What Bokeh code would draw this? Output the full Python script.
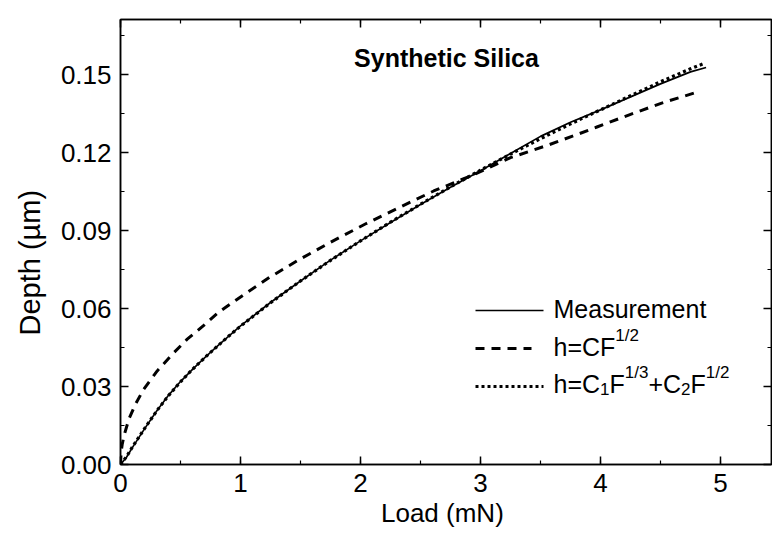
from bokeh.plotting import figure
from bokeh.models import (Range1d, LinearAxis, SingleIntervalTicker,
                          NumeralTickFormatter, Label, Title)
from bokeh.embed import file_html
from bokeh.resources import INLINE

# ---------------- data ----------------
load_meas = [0, 0.05, 0.1, 0.2, 0.3, 0.4, 0.5, 0.6, 0.7, 0.8, 0.9, 1.0, 1.25,
             1.5, 1.75, 2.0, 2.25, 2.5, 2.75, 3.0, 3.25, 3.5, 3.75, 4.0, 4.25,
             4.5, 4.75, 4.88]
depth_meas = [0, 0.0028, 0.0066, 0.0137, 0.0205, 0.0266, 0.0319, 0.0366, 0.0410,
              0.0452, 0.0493, 0.0533, 0.0623, 0.0706, 0.0786, 0.0860, 0.0931,
              0.1000, 0.1066, 0.1130, 0.1196, 0.1262, 0.1316, 0.1364, 0.1414,
              0.1464, 0.1510, 0.1527]

load_fit = [0, 0.05, 0.1, 0.2, 0.3, 0.4, 0.5, 0.6, 0.7, 0.8, 0.9, 1.0, 1.25,
            1.5, 1.75, 2.0, 2.25, 2.5, 2.75, 3.0, 3.25, 3.5, 3.75, 4.0, 4.25,
            4.5, 4.75, 4.86]
depth_fit = [0, 0.0030, 0.0068, 0.0138, 0.0205, 0.0265, 0.0318, 0.0366, 0.0410,
             0.0452, 0.0493, 0.0532, 0.0622, 0.0706, 0.0785, 0.0860, 0.0932,
             0.1001, 0.1068, 0.1132, 0.1194, 0.1253, 0.1310, 0.1364, 0.1418,
             0.1472, 0.1522, 0.1542]

load_sqrt = [0, 0.005, 0.014, 0.03, 0.07, 0.125, 0.194, 0.306, 0.444, 0.556,
             0.694, 0.819, 0.958, 1.056, 1.236, 1.5, 1.78, 2.04, 2.33, 2.61,
             2.95, 3.25, 3.56, 3.81, 3.97, 4.24, 4.51, 4.79]
depth_sqrt = [0, 0.0046, 0.0077, 0.0112, 0.0175, 0.0232, 0.0290, 0.0360, 0.0430,
              0.0482, 0.0535, 0.0586, 0.0631, 0.0662, 0.0718, 0.0791, 0.0862,
              0.0925, 0.0990, 0.1052, 0.1116, 0.1180, 0.1228, 0.1270, 0.1298,
              0.1345, 0.1390, 0.1430]

title_text = "Synthetic Silica"
x_label = "Load  (mN)"
y_label = "Depth  (\u00b5m)"
legend_names = ["Measurement", "h=CF", "h=C"]

# ---------------- layout ----------------
W, H = 772, 536
L, R, T, B = 120, 771, 19, 464
X_MAX = (R - L) / 120.0
Y_MAX = (B - T) / 2600.0
FONT = "Liberation Sans"

p = figure(width=W, height=H, output_backend="svg", toolbar_location=None,
           x_range=Range1d(0, X_MAX), y_range=Range1d(0, Y_MAX),
           min_border_left=L, min_border_right=W - R, min_border_top=T,
           min_border_bottom=H - B, x_axis_type=None, y_axis_type=None)
p.grid.visible = False
p.outline_line_color = "black"
p.outline_line_width = 1.5
p.background_fill_color = "white"
p.border_fill_color = "white"


def style_axis(ax, labels=True):
    ax.axis_line_color = "black"
    ax.axis_line_width = 1.5
    ax.major_tick_in = 8
    ax.major_tick_out = 0
    ax.minor_tick_in = 4
    ax.minor_tick_out = 0
    ax.major_tick_line_width = 1.5
    ax.minor_tick_line_width = 1.2
    ax.major_tick_line_color = "black"
    ax.minor_tick_line_color = "black"
    if not labels:
        ax.major_label_text_font_size = "0px"
        ax.major_label_text_color = None
        ax.major_label_standoff = 0
    else:
        ax.major_label_text_font = FONT
        ax.major_label_text_font_size = "26px"
        ax.major_label_text_color = "black"
        ax.axis_label_text_font = FONT
        ax.axis_label_text_font_size = "26px"
        ax.axis_label_text_font_style = "normal"
        ax.axis_label_text_color = "black"


xb = LinearAxis(ticker=SingleIntervalTicker(interval=1, num_minor_ticks=2),
                axis_label=x_label)
style_axis(xb)
xb.major_label_standoff = 9
xb.axis_label_standoff = 3
p.add_layout(xb, "below")

yl = LinearAxis(ticker=SingleIntervalTicker(interval=0.03, num_minor_ticks=2),
                formatter=NumeralTickFormatter(format="0.00"))
style_axis(yl)
yl.major_label_standoff = 9
p.add_layout(yl, "left")

# y axis title (outside the left axis; anchored from the frame bottom)
p.add_layout(Title(text=y_label, align="left", text_font=FONT,
                   text_font_size="29px", text_font_style="normal",
                   text_color="black", standoff=23, offset=129), "left")

xt = LinearAxis(ticker=SingleIntervalTicker(interval=1, num_minor_ticks=2))
style_axis(xt, labels=False)
p.add_layout(xt, "above")

yr = LinearAxis(ticker=SingleIntervalTicker(interval=0.03, num_minor_ticks=2))
style_axis(yr, labels=False)
p.add_layout(yr, "right")

# ---------------- curves ----------------
p.line(load_meas, depth_meas, line_color="black", line_width=1.7)
p.line(load_sqrt, depth_sqrt, line_color="black", line_width=3, line_dash="9 7")
p.line(load_fit, depth_fit, line_color="black", line_width=3.2, line_dash="3 3")


# ---------------- helpers for pixel placement of annotations ----------------
def xd(px):
    return (px - L) / (R - L) * X_MAX


def yd(py):
    return (B - py) / (B - T) * Y_MAX


ADV = {'h': 556, '=': 584, 'C': 722, 'F': 611, '1': 556, '/': 278, '2': 556,
       '3': 556, '+': 584}


def width(s, size):
    return sum(ADV.get(c, 556) for c in s) * size / 1000.0


def add_text(s, px, py, size, bold=False, align="left", baseline="alphabetic"):
    p.add_layout(Label(x=xd(px), y=yd(py), text=s, text_font=FONT,
                       text_font_size=f"{size}px", text_align=align,
                       text_baseline=baseline, text_color="black",
                       text_font_style="bold" if bold else "normal"))


def add_rich(pieces, px, base):
    x = px
    for s, size, dy in pieces:
        add_text(s, x, base + dy, size)
        x += width(s, size)


# title
add_text(title_text, 446, 57, 25, bold=True, align="center")

# legend samples
LX0, LX1, TX = 475, 543, 553
MAIN, SMALL = 25, 17
p.line([xd(LX0), xd(LX1)], [yd(310), yd(310)], line_color="black", line_width=1.7)
p.line([xd(LX0), xd(531)], [yd(348), yd(348)], line_color="black", line_width=3,
       line_dash="9 7")
p.line([xd(LX0), xd(LX1)], [yd(386), yd(386)], line_color="black", line_width=3.2,
       line_dash="3 3")

add_text(legend_names[0], TX, 308, MAIN)
add_rich([(legend_names[1], MAIN, 0), ("1/2", SMALL, -11)], TX, 346)
add_rich([(legend_names[2], MAIN, 0), ("1", SMALL, 5), ("F", MAIN, 0),
          ("1/3", SMALL, -11), ("+C", MAIN, 0), ("2", SMALL, 5), ("F", MAIN, 0),
          ("1/2", SMALL, -11)], TX, 383)

open("out.html", "w").write(file_html(p, INLINE))
